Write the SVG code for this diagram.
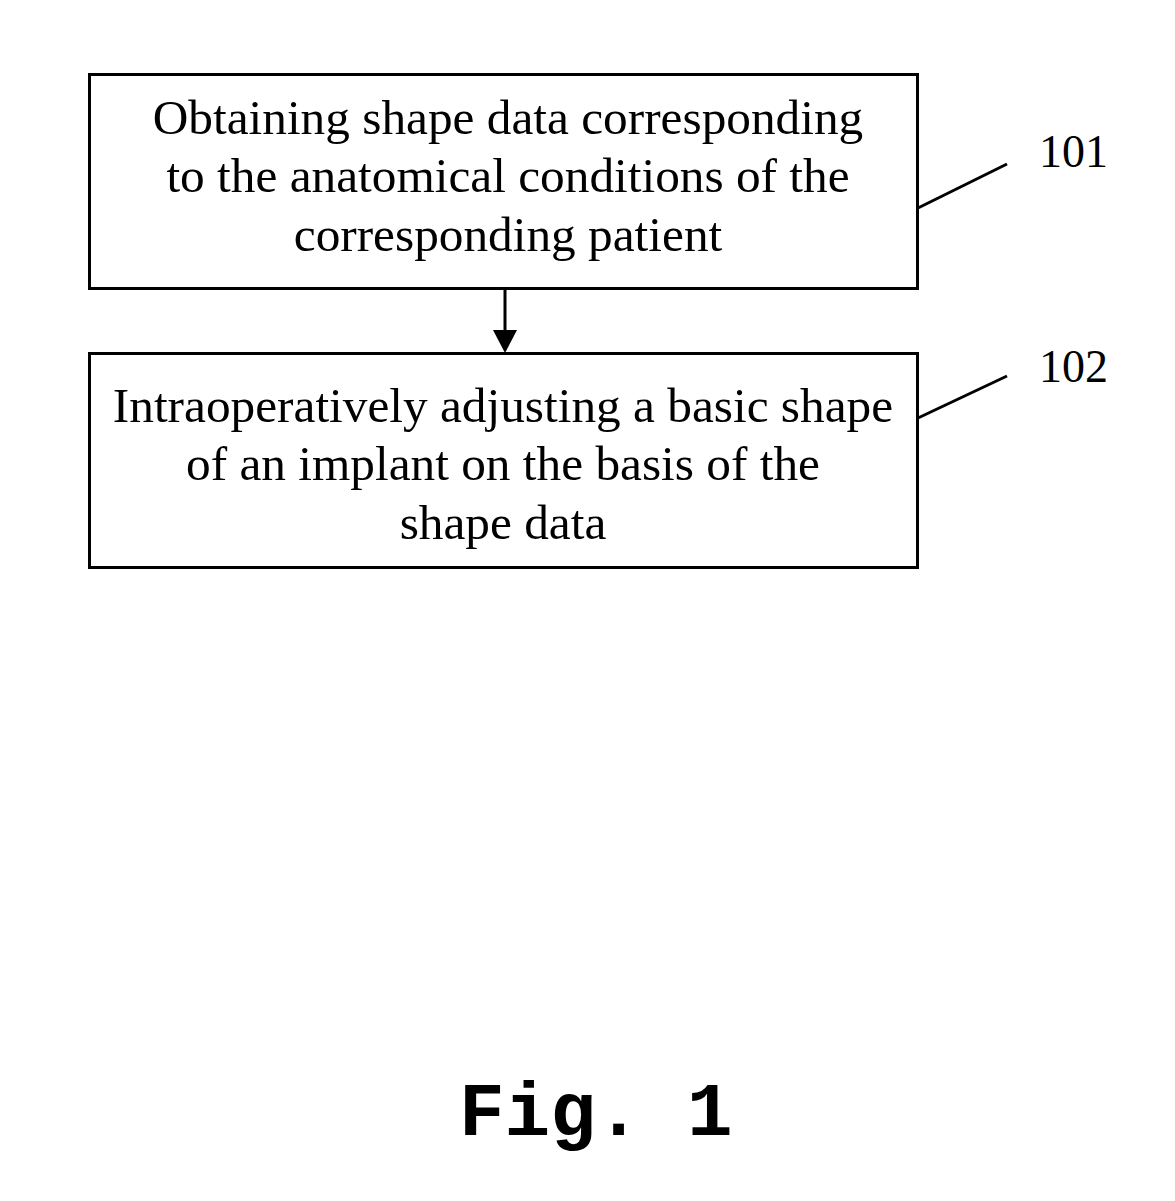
<svg xmlns="http://www.w3.org/2000/svg" width="1175" height="1201" viewBox="0 0 1175 1201">
<style>
.box{fill:#fff;stroke:#000;stroke-width:3}
.t{font-family:"Liberation Serif","Times New Roman",serif;font-size:49.3px;fill:#000;text-anchor:middle}
.lbl{font-family:"Liberation Serif","Times New Roman",serif;font-size:46px;fill:#000}
.ln{stroke:#000;stroke-width:3;fill:none}
.fig{font-family:"Liberation Mono","Courier New",monospace;font-weight:bold;font-size:76px;fill:#000}
</style>
<rect width="1175" height="1201" fill="#fff"/>
<g id="node101">
<rect class="box" x="89.5" y="74.5" width="828" height="214"/>
<text class="t" x="508" y="134">Obtaining shape data corresponding</text>
<text class="t" x="508" y="192">to the anatomical conditions of the</text>
<text class="t" x="508" y="251">corresponding patient</text>
</g>
<g id="node102">
<rect class="box" x="89.5" y="353.5" width="828" height="214"/>
<text class="t" x="503" y="422">Intraoperatively adjusting a basic shape</text>
<text class="t" x="503" y="480">of an implant on the basis of the</text>
<text class="t" x="503" y="539">shape data</text>
</g>
<g id="labels">
<text class="lbl" x="1039" y="167">101</text>
<text class="lbl" x="1039" y="382">102</text>
</g>
<g id="connectors">
<line x1="505" y1="289" x2="505" y2="330" class="ln"/>
<path d="M493,330 L517,330 L505,353 Z" fill="#000"/>
<line class="ln" x1="918" y1="208" x2="1007" y2="164"/>
<line class="ln" x1="918" y1="418" x2="1007" y2="376"/>
</g>
<text class="fig" x="459" y="1135">Fig. 1</text>
</svg>
